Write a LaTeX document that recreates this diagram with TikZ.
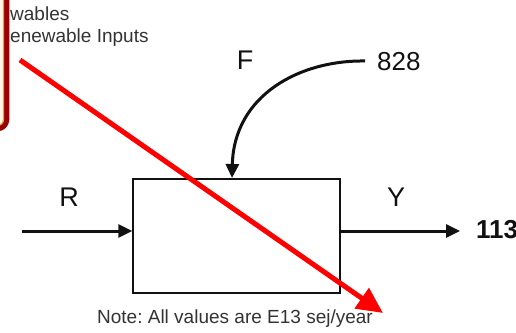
\documentclass[tikz,border=0pt]{standalone}
\usepackage{fontspec}
\setmainfont{Liberation Sans}
\usepackage{xcolor}
\usepackage{tikz}
\usetikzlibrary{calc,arrows.meta,positioning}
\definecolor{framec}{HTML}{990000}
\definecolor{rimc}{HTML}{F2A03C}
\definecolor{paperc}{HTML}{FFF8E6}
\definecolor{inkc}{HTML}{111111}
\definecolor{notec}{HTML}{333333}
\definecolor{markc}{HTML}{FF0000}
\tikzset{
  flow/.style={-{Triangle[length=14pt,width=13pt]},line width=3pt,inkc},
  proc/.style={draw=inkc,line width=1.4pt,minimum width=207pt,minimum height=114pt,inner sep=0pt},
  lab/.style={font=\fontsize{27}{30}\selectfont,inkc,inner sep=0pt},
  small/.style={font=\fontsize{19}{24}\selectfont,notec,inner sep=0pt}
}
\frenchspacing
\begin{document}
\begin{tikzpicture}[x=1pt,y=-1pt]
\useasboundingbox (0,0) rectangle (516,332);
% legend frame, cut at the edge
\draw[framec,line width=5.5pt,rounded corners=9pt,fill=paperc] (-80,-30) rectangle (6.5,128.5);
\draw[rimc,line width=1.2pt,rounded corners=6pt] (-80,-30) rectangle (3.5,125.5);
\node[small,anchor=west] (lgA) at (10,14) {wables};
\node[small,anchor=west] (lgB) at (10,38) {enewable Inputs};
% the process
\node[proc] (box) at (236.5,236) {};
\coordinate (rin) at (22,231);
\coordinate (yout) at (460,231);
\coordinate (ftop) at (232,178);
\draw[flow] (rin) -- (rin -| box.west);
\draw[flow] (yout -| box.east) -- (yout);
\node[lab] (rlab) at (69,197) {R};
\node[lab] (ylab) at (396,197) {Y};
\node[lab] (flab) at (245,60) {F};
\node[lab,anchor=west,font=\fontsize{26}{30}\selectfont] (fval) at (377,62) {828};
\node[lab,anchor=west,font=\bfseries\fontsize{26}{30}\selectfont] (yval) at (476,230) {113};
\draw[flow] (fval.west) ++(-12,-1) coordinate (fsrc)
  .. controls (300,60) and (234,95) .. (ftop);
\node[small] (note) at (235,319) {Note: All values are E13 sej/year};
% red strike
\coordinate (sa) at (20,60);
\coordinate (sb) at (383,313);
\draw[markc,line width=5pt,-{Triangle[length=26pt,width=24pt]}] (sa) -- (sb);
\end{tikzpicture}
\end{document}
